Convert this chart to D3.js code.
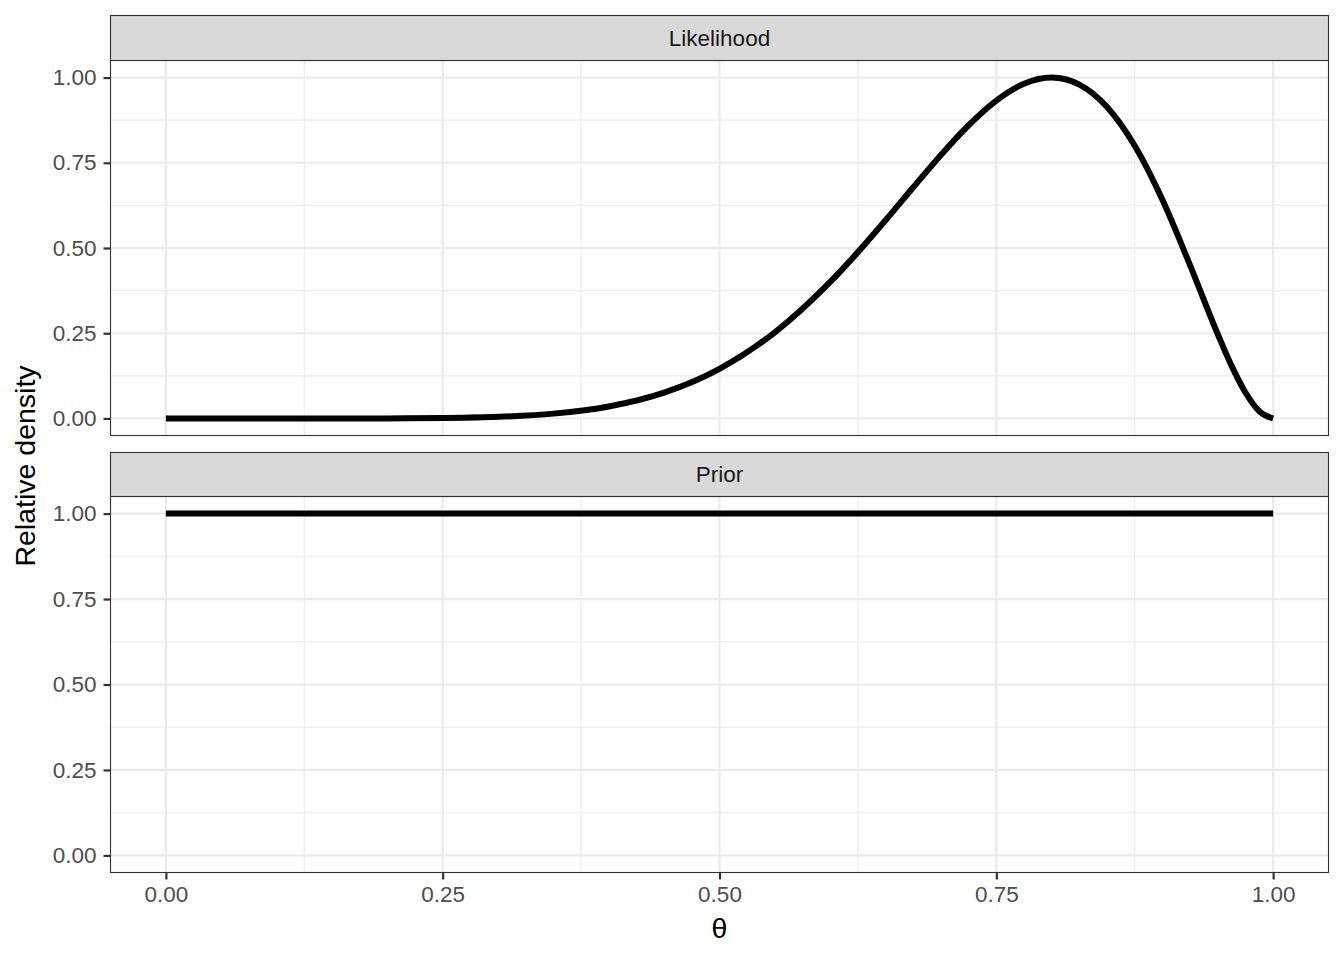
<!DOCTYPE html>
<html><head><meta charset="utf-8">
<script src="https://cdn.jsdelivr.net/npm/d3@7"></script>
<style>body{margin:0;background:#fff;} text{font-family:"Liberation Sans",Arial,sans-serif;}</style>
</head><body><svg id="c" width="1344" height="960"></svg>
<script>
const panels = ["Likelihood", "Prior"];
const theta = [0,0.05,0.1,0.15,0.2,0.25,0.3,0.35,0.4,0.45,0.5,0.55,0.6,0.625,0.65,0.675,0.7,0.725,0.75,0.775,0.8,0.825,0.85,0.875,0.9,0.925,0.95,0.9625,0.975,0.9875,1];
const likelihood = [0,0,0,0,0.0002,0.0013,0.0048,0.0142,0.0352,0.0758,0.1455,0.2527,0.4005,0.4879,0.5816,0.6782,0.7731,0.8601,0.9324,0.9818,1,0.9793,0.9136,0.8,0.6414,0.4493,0.2471,0.1543,0.0761,0.0211,0];
const prior = theta.map(() => 1);
const xTicks = [0, 0.25, 0.5, 0.75, 1];
const xTickLabels = ["0.00","0.25","0.50","0.75","1.00"];
const yTicks = [0, 0.25, 0.5, 0.75, 1];
const yTickLabels = ["0.00","0.25","0.50","0.75","1.00"];
const xMinor = [0.125, 0.375, 0.625, 0.875];
const yMinor = [0.125, 0.375, 0.625, 0.875];

const svg = d3.select("#c");
const L = 110.5, R = 1328.5;
const x = d3.scaleLinear().domain([-0.05, 1.05]).range([L, R]);
const layout = [
  {name: panels[0], stripTop: 15.5, top: 60.5, bottom: 435.5, values: likelihood},
  {name: panels[1], stripTop: 452.5, top: 496.5, bottom: 872.5, values: prior}
];
const TF = 22.5;
layout.forEach(p => {
  const y = d3.scaleLinear().domain([-0.05, 1.05]).range([p.bottom, p.top]);
  const g = svg.append("g");
  g.selectAll(".xm").data(xMinor).join("line").attr("x1", d=>x(d)).attr("x2", d=>x(d)).attr("y1", p.top).attr("y2", p.bottom).attr("stroke","#ebebeb").attr("stroke-width",1.1);
  g.selectAll(".ym").data(yMinor).join("line").attr("y1", d=>y(d)).attr("y2", d=>y(d)).attr("x1", L).attr("x2", R).attr("stroke","#ebebeb").attr("stroke-width",1.1);
  g.selectAll(".xM").data(xTicks).join("line").attr("x1", d=>x(d)).attr("x2", d=>x(d)).attr("y1", p.top).attr("y2", p.bottom).attr("stroke","#ebebeb").attr("stroke-width",2.2);
  g.selectAll(".yM").data(yTicks).join("line").attr("y1", d=>y(d)).attr("y2", d=>y(d)).attr("x1", L).attr("x2", R).attr("stroke","#ebebeb").attr("stroke-width",2.2);
  const line = d3.line().x((d,i)=>x(theta[i])).y(d=>y(d)).curve(d3.curveMonotoneX);
  g.append("path").datum(p.values).attr("d", line).attr("fill","none").attr("stroke","#000").attr("stroke-width",6);
  g.append("rect").attr("x", L).attr("y", p.top).attr("width", R-L).attr("height", p.bottom-p.top).attr("fill","none").attr("stroke","#333").attr("stroke-width",1.1);
  g.append("rect").attr("x", L).attr("y", p.stripTop).attr("width", R-L).attr("height", p.top-p.stripTop).attr("fill","#d9d9d9").attr("stroke","#333").attr("stroke-width",1.1);
  g.append("text").attr("x",(L+R)/2).attr("y",(p.stripTop+p.top)/2).attr("dy","0.35em").attr("text-anchor","middle").attr("font-size",22.5).attr("fill","#1a1a1a").text(p.name);
  const ya = d3.axisLeft(y).tickValues(yTicks).tickFormat((d,i)=>yTickLabels[i]).tickSize(7).tickPadding(7);
  const yg = g.append("g").attr("transform",`translate(${L},0)`).call(ya);
  yg.select(".domain").remove();
  yg.selectAll("line").attr("stroke","#333").attr("stroke-width",2.2);
  yg.selectAll("text").attr("font-size",TF).attr("fill","#4d4d4d").attr("font-family","Liberation Sans, Arial, sans-serif");
});
const xa = d3.axisBottom(x).tickValues(xTicks).tickFormat((d,i)=>xTickLabels[i]).tickSize(7).tickPadding(7);
const xg = svg.append("g").attr("transform",`translate(0,${layout[1].bottom})`).call(xa);
xg.select(".domain").remove();
xg.selectAll("line").attr("stroke","#333").attr("stroke-width",2.2);
xg.selectAll("text").attr("font-size",TF).attr("fill","#4d4d4d").attr("font-family","Liberation Sans, Arial, sans-serif");
svg.append("text").attr("x",(L+R)/2).attr("y",938).attr("text-anchor","middle").attr("font-size",28.5).attr("fill","#000").text("θ");
svg.append("text").attr("transform",`translate(35,466) rotate(-90)`).attr("text-anchor","middle").attr("font-size",28.5).attr("fill","#000").text("Relative density");
</script></body></html>
